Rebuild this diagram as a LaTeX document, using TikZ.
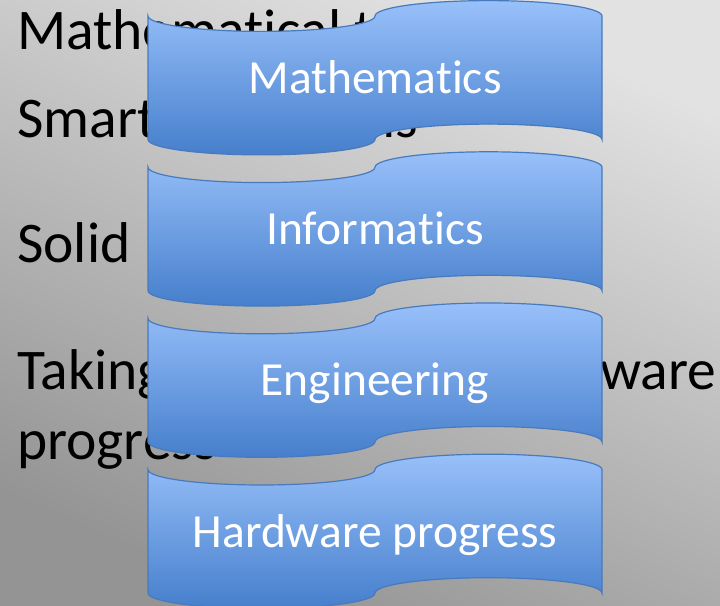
\documentclass[tikz,border=0pt]{standalone}
\usepackage{fontspec}
\setmainfont[Ligatures=NoCommon]{Carlito}
\definecolor{bgLight}{RGB}{226,226,226}
\definecolor{bgDark}{RGB}{148,148,148}
\definecolor{bannerTop}{RGB}{152,192,250}
\definecolor{bannerBot}{RGB}{70,127,204}
\definecolor{bannerLine}{RGB}{72,122,188}
\tikzset{
  banner/.style={draw=bannerLine, line width=1.2pt, top color=bannerTop, bottom color=bannerBot},
  bannertext/.style={text=white, font=\fontsize{47.5}{50}\selectfont, inner sep=0pt, anchor=base},
  bgtext/.style={text=black, font=\fontsize{57.5}{60}\selectfont, inner sep=0pt, anchor=base west},
}
\begin{document}
\begin{tikzpicture}[x=1pt,y=1pt]
\useasboundingbox (0,0) rectangle (720,605);
\shade[top color=bgLight, bottom color=bgDark, shading angle=-24] (0,0) rectangle (720,605);
\node[bgtext] (l1) at (17,555) {Mathematical tools};
\node[bgtext] (l2) at (17,467) {Smart algorithms};
\node[bgtext] (l3) at (17,342) {Solid};
\node[bgtext] (l4) at (17,215) {Taking advantage of hardware};
\node[bgtext] (l5) at (17,145) {progress};
\foreach \k/\txt/\nm in {0/Mathematics/b1, 1/Informatics/b2, 2/Engineering/b3, 3/Hardware progress/b4} {
  \pgfmathsetmacro\T{605-16-151.2*\k}
  \pgfmathsetmacro\B{\T-123.5}
  \path[banner] (148,\T)
    arc[start angle=180,end angle=360,x radius=113.5pt,y radius=15.4pt]
    arc[start angle=180,end angle=0,x radius=113.5pt,y radius=15.4pt]
    -- (602,\B)
    arc[start angle=0,end angle=180,x radius=113.5pt,y radius=15.4pt]
    arc[start angle=360,end angle=180,x radius=113.5pt,y radius=15.4pt]
    -- cycle;
  \node[bannertext] (\nm) at ({375},{\T-77.5}) {\txt};
}
\end{tikzpicture}
\end{document}
